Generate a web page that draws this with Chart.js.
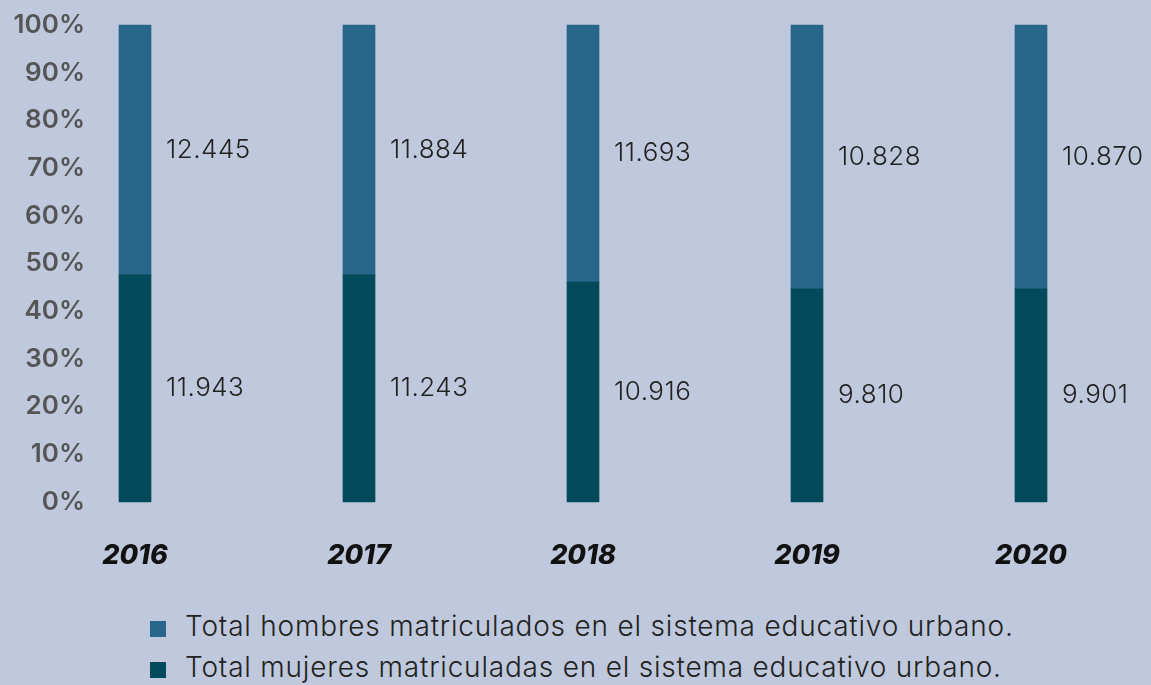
<!DOCTYPE html>
<html lang="es">
<head>
  <meta charset="UTF-8">
  <title>Matriculados en el sistema educativo urbano</title>
  <script src="https://cdn.jsdelivr.net/npm/chart.js"></script>
  <style>
    html, body {
      margin: 0;
      padding: 0;
      background: #bfc8dc;
      font-family: Inter, sans-serif;
    }
    #wrap {
      width: 1151px;
      height: 685px;
      position: relative;
      overflow: hidden;
    }
    #legend {
      margin: 31px 0 0 150px;
      font-size: 28px;
      font-weight: 300;
      letter-spacing: 0.8px;
      color: #222;
      line-height: 41px;
    }
    .item { display: flex; align-items: center; white-space: nowrap; }
    .box { width: 16px; height: 16px; margin-right: 19px; margin-top: 4px; }
  </style>
</head>
<body>
  <div id="wrap">
    <canvas id="chart" width="1151" height="575"></canvas>
    <div id="legend"></div>
  </div>

  <script>
    // datos
    const years = ['2016', '2017', '2018', '2019', '2020'];
    const pctMujeres = [47.6, 47.6, 46.1, 44.7, 44.7];
    const pctHombres = [52.4, 52.4, 53.9, 55.3, 55.3];
    const totalMujeres = ['11.943', '11.243', '10.916', '9.810', '9.901'];
    const totalHombres = ['12.445', '11.884', '11.693', '10.828', '10.870'];

    const colHombres = '#28668a';
    const colMujeres = '#024a5a';

    const valueLabels = {
      id: 'valueLabels',
      afterDatasetsDraw(chart) {
        const ctx = chart.ctx;
        ctx.save();
        ctx.font = '300 26px Inter';
        ctx.letterSpacing = '0.5px';
        ctx.fillStyle = '#222';
        ctx.textAlign = 'left';
        ctx.textBaseline = 'middle';
        chart.data.datasets.forEach((ds, i) => {
          chart.getDatasetMeta(i).data.forEach((bar, j) => {
            ctx.fillText(ds.valueText[j], bar.x + 31, (bar.y + bar.base) / 2);
          });
        });
        ctx.restore();
      }
    };

    const chart = new Chart(document.getElementById('chart'), {
      type: 'bar',
      data: {
        labels: years,
        datasets: [
          {
            label: 'Total mujeres matriculadas en el sistema educativo urbano.',
            data: pctMujeres,
            valueText: totalMujeres,
            backgroundColor: colMujeres,
            barThickness: 32,
            clip: false
          },
          {
            label: 'Total hombres matriculados en el sistema educativo urbano.',
            data: pctHombres,
            valueText: totalHombres,
            backgroundColor: colHombres,
            barThickness: 32,
            clip: false
          }
        ]
      },
      options: {
        responsive: false,
        animation: false,
        layout: { padding: { left: 10, right: 120, top: 25, bottom: 4 } },
        plugins: {
          legend: { display: false },
          tooltip: { enabled: false }
        },
        scales: {
          x: {
            stacked: true,
            offset: false,
            grid: { display: false, drawTicks: false },
            border: { display: false },
            afterFit: s => { s.height = 69; s.paddingLeft = 0; s.paddingRight = 0; },
            ticks: {
              color: '#111',
              padding: 38,
              maxRotation: 0,
              font: { family: 'Inter', size: 27, weight: 800, style: 'italic' }
            }
          },
          y: {
            stacked: true,
            min: 0,
            max: 100,
            grid: { display: false, drawTicks: false },
            border: { display: false },
            afterFit: s => { s.width = 125; s.paddingTop = 0; s.paddingBottom = 0; },
            ticks: {
              stepSize: 10,
              color: '#555',
              padding: 50,
              font: { family: 'Inter', size: 26, weight: 600 },
              callback: v => v + '%'
            }
          }
        }
      },
      plugins: [valueLabels]
    });

    // leyenda: hombres primero, luego mujeres
    const legend = document.getElementById('legend');
    [1, 0].forEach(i => {
      const ds = chart.data.datasets[i];
      const row = document.createElement('div');
      row.className = 'item';
      row.innerHTML = '<span class="box" style="background:' + ds.backgroundColor + '"></span>' + ds.label;
      legend.appendChild(row);
    });
  </script>
</body>
</html>
